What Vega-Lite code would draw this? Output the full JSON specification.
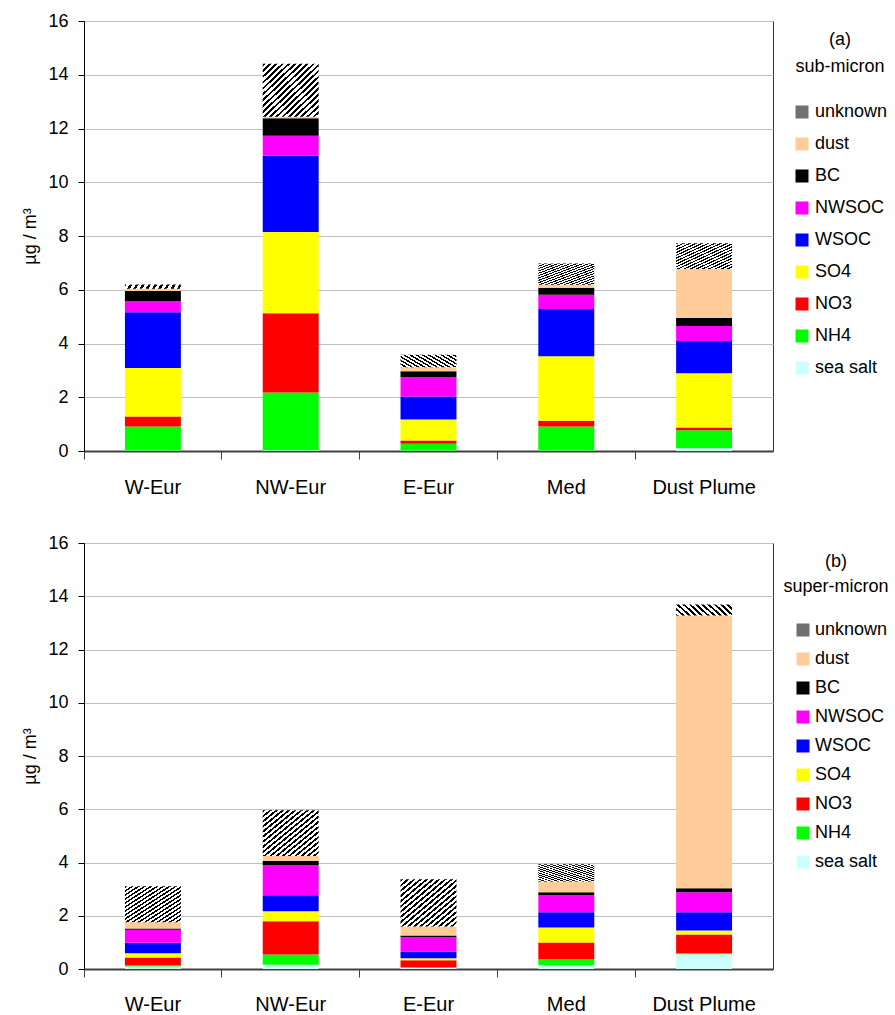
{
  "$schema": "https://vega.github.io/schema/vega-lite/v6.json",
  "padding": {"left": 21, "top": 11, "right": 0, "bottom": 0},
  "config": {
    "font": "Liberation Sans",
    "view": {"stroke": "#333333", "strokeWidth": 1},
    "axis": {"labelFont": "Liberation Sans", "titleFont": "Liberation Sans", "labelColor": "#000", "titleColor": "#000"},
    "legend": {"labelFont": "Liberation Sans", "titleFont": "Liberation Sans"}
  },
  "datasets": {
    "comp": [
      {"panel": "a", "region": "W-Eur", "component": "sea salt", "rank": 1, "value": 0.02},
      {"panel": "a", "region": "W-Eur", "component": "NH4", "rank": 2, "value": 0.89},
      {"panel": "a", "region": "W-Eur", "component": "NO3", "rank": 3, "value": 0.37},
      {"panel": "a", "region": "W-Eur", "component": "SO4", "rank": 4, "value": 1.81},
      {"panel": "a", "region": "W-Eur", "component": "WSOC", "rank": 5, "value": 2.07},
      {"panel": "a", "region": "W-Eur", "component": "NWSOC", "rank": 6, "value": 0.41},
      {"panel": "a", "region": "W-Eur", "component": "BC", "rank": 7, "value": 0.38},
      {"panel": "a", "region": "W-Eur", "component": "dust", "rank": 8, "value": 0.09},
      {"panel": "a", "region": "W-Eur", "component": "unknown", "rank": 9, "value": 0.16},
      {"panel": "a", "region": "NW-Eur", "component": "sea salt", "rank": 1, "value": 0.03},
      {"panel": "a", "region": "NW-Eur", "component": "NH4", "rank": 2, "value": 2.15},
      {"panel": "a", "region": "NW-Eur", "component": "NO3", "rank": 3, "value": 2.95},
      {"panel": "a", "region": "NW-Eur", "component": "SO4", "rank": 4, "value": 3.02},
      {"panel": "a", "region": "NW-Eur", "component": "WSOC", "rank": 5, "value": 2.84},
      {"panel": "a", "region": "NW-Eur", "component": "NWSOC", "rank": 6, "value": 0.74},
      {"panel": "a", "region": "NW-Eur", "component": "BC", "rank": 7, "value": 0.65},
      {"panel": "a", "region": "NW-Eur", "component": "dust", "rank": 8, "value": 0.06},
      {"panel": "a", "region": "NW-Eur", "component": "unknown", "rank": 9, "value": 1.97},
      {"panel": "a", "region": "E-Eur", "component": "sea salt", "rank": 1, "value": 0.02},
      {"panel": "a", "region": "E-Eur", "component": "NH4", "rank": 2, "value": 0.25},
      {"panel": "a", "region": "E-Eur", "component": "NO3", "rank": 3, "value": 0.12},
      {"panel": "a", "region": "E-Eur", "component": "SO4", "rank": 4, "value": 0.78},
      {"panel": "a", "region": "E-Eur", "component": "WSOC", "rank": 5, "value": 0.86},
      {"panel": "a", "region": "E-Eur", "component": "NWSOC", "rank": 6, "value": 0.71},
      {"panel": "a", "region": "E-Eur", "component": "BC", "rank": 7, "value": 0.23},
      {"panel": "a", "region": "E-Eur", "component": "dust", "rank": 8, "value": 0.15},
      {"panel": "a", "region": "E-Eur", "component": "unknown", "rank": 9, "value": 0.46},
      {"panel": "a", "region": "Med", "component": "sea salt", "rank": 1, "value": 0.02},
      {"panel": "a", "region": "Med", "component": "NH4", "rank": 2, "value": 0.89},
      {"panel": "a", "region": "Med", "component": "NO3", "rank": 3, "value": 0.22},
      {"panel": "a", "region": "Med", "component": "SO4", "rank": 4, "value": 2.40},
      {"panel": "a", "region": "Med", "component": "WSOC", "rank": 5, "value": 1.75},
      {"panel": "a", "region": "Med", "component": "NWSOC", "rank": 6, "value": 0.53},
      {"panel": "a", "region": "Med", "component": "BC", "rank": 7, "value": 0.26},
      {"panel": "a", "region": "Med", "component": "dust", "rank": 8, "value": 0.12},
      {"panel": "a", "region": "Med", "component": "unknown", "rank": 9, "value": 0.79},
      {"panel": "a", "region": "Dust Plume", "component": "sea salt", "rank": 1, "value": 0.10},
      {"panel": "a", "region": "Dust Plume", "component": "NH4", "rank": 2, "value": 0.67},
      {"panel": "a", "region": "Dust Plume", "component": "NO3", "rank": 3, "value": 0.10},
      {"panel": "a", "region": "Dust Plume", "component": "SO4", "rank": 4, "value": 2.02},
      {"panel": "a", "region": "Dust Plume", "component": "WSOC", "rank": 5, "value": 1.20},
      {"panel": "a", "region": "Dust Plume", "component": "NWSOC", "rank": 6, "value": 0.56},
      {"panel": "a", "region": "Dust Plume", "component": "BC", "rank": 7, "value": 0.30},
      {"panel": "a", "region": "Dust Plume", "component": "dust", "rank": 8, "value": 1.82},
      {"panel": "a", "region": "Dust Plume", "component": "unknown", "rank": 9, "value": 0.96},
      {"panel": "b", "region": "W-Eur", "component": "sea salt", "rank": 1, "value": 0.09},
      {"panel": "b", "region": "W-Eur", "component": "NH4", "rank": 2, "value": 0.04},
      {"panel": "b", "region": "W-Eur", "component": "NO3", "rank": 3, "value": 0.30},
      {"panel": "b", "region": "W-Eur", "component": "SO4", "rank": 4, "value": 0.16},
      {"panel": "b", "region": "W-Eur", "component": "WSOC", "rank": 5, "value": 0.40},
      {"panel": "b", "region": "W-Eur", "component": "NWSOC", "rank": 6, "value": 0.48},
      {"panel": "b", "region": "W-Eur", "component": "BC", "rank": 7, "value": 0.05},
      {"panel": "b", "region": "W-Eur", "component": "dust", "rank": 8, "value": 0.24},
      {"panel": "b", "region": "W-Eur", "component": "unknown", "rank": 9, "value": 1.35},
      {"panel": "b", "region": "NW-Eur", "component": "sea salt", "rank": 1, "value": 0.16},
      {"panel": "b", "region": "NW-Eur", "component": "NH4", "rank": 2, "value": 0.38},
      {"panel": "b", "region": "NW-Eur", "component": "NO3", "rank": 3, "value": 1.25},
      {"panel": "b", "region": "NW-Eur", "component": "SO4", "rank": 4, "value": 0.38},
      {"panel": "b", "region": "NW-Eur", "component": "WSOC", "rank": 5, "value": 0.60},
      {"panel": "b", "region": "NW-Eur", "component": "NWSOC", "rank": 6, "value": 1.13},
      {"panel": "b", "region": "NW-Eur", "component": "BC", "rank": 7, "value": 0.16},
      {"panel": "b", "region": "NW-Eur", "component": "dust", "rank": 8, "value": 0.18},
      {"panel": "b", "region": "NW-Eur", "component": "unknown", "rank": 9, "value": 1.72},
      {"panel": "b", "region": "E-Eur", "component": "sea salt", "rank": 1, "value": 0.04},
      {"panel": "b", "region": "E-Eur", "component": "NH4", "rank": 2, "value": 0.035},
      {"panel": "b", "region": "E-Eur", "component": "NO3", "rank": 3, "value": 0.255},
      {"panel": "b", "region": "E-Eur", "component": "SO4", "rank": 4, "value": 0.07},
      {"panel": "b", "region": "E-Eur", "component": "WSOC", "rank": 5, "value": 0.26},
      {"panel": "b", "region": "E-Eur", "component": "NWSOC", "rank": 6, "value": 0.53},
      {"panel": "b", "region": "E-Eur", "component": "BC", "rank": 7, "value": 0.07},
      {"panel": "b", "region": "E-Eur", "component": "dust", "rank": 8, "value": 0.34},
      {"panel": "b", "region": "E-Eur", "component": "unknown", "rank": 9, "value": 1.77},
      {"panel": "b", "region": "Med", "component": "sea salt", "rank": 1, "value": 0.14},
      {"panel": "b", "region": "Med", "component": "NH4", "rank": 2, "value": 0.22},
      {"panel": "b", "region": "Med", "component": "NO3", "rank": 3, "value": 0.64},
      {"panel": "b", "region": "Med", "component": "SO4", "rank": 4, "value": 0.56},
      {"panel": "b", "region": "Med", "component": "WSOC", "rank": 5, "value": 0.57},
      {"panel": "b", "region": "Med", "component": "NWSOC", "rank": 6, "value": 0.64},
      {"panel": "b", "region": "Med", "component": "BC", "rank": 7, "value": 0.11},
      {"panel": "b", "region": "Med", "component": "dust", "rank": 8, "value": 0.41},
      {"panel": "b", "region": "Med", "component": "unknown", "rank": 9, "value": 0.64},
      {"panel": "b", "region": "Dust Plume", "component": "sea salt", "rank": 1, "value": 0.55},
      {"panel": "b", "region": "Dust Plume", "component": "NH4", "rank": 2, "value": 0.04},
      {"panel": "b", "region": "Dust Plume", "component": "NO3", "rank": 3, "value": 0.71},
      {"panel": "b", "region": "Dust Plume", "component": "SO4", "rank": 4, "value": 0.15},
      {"panel": "b", "region": "Dust Plume", "component": "WSOC", "rank": 5, "value": 0.68},
      {"panel": "b", "region": "Dust Plume", "component": "NWSOC", "rank": 6, "value": 0.75},
      {"panel": "b", "region": "Dust Plume", "component": "BC", "rank": 7, "value": 0.15},
      {"panel": "b", "region": "Dust Plume", "component": "dust", "rank": 8, "value": 10.25},
      {"panel": "b", "region": "Dust Plume", "component": "unknown", "rank": 9, "value": 0.41}
    ]
  },
  "vconcat": [
    {
      "width": 689,
      "height": 430,
      "data": {"name": "comp"},
      "transform": [{"filter": "datum.panel === 'a'"}],
      "mark": {"type": "bar", "width": {"band": 0.406}},
      "encoding": {
        "x": {"field": "region", "type": "nominal", "sort": ["W-Eur", "NW-Eur", "E-Eur", "Med", "Dust Plume"], "scale": {"paddingInner": 0, "paddingOuter": 0},
          "axis": {"title": null, "labelAngle": 0, "labelFontSize": 20, "labelPadding": 18, "bandPosition": 0, "tickSize": 8, "tickColor": "#404040", "domainColor": "#404040", "domainWidth": 2, "grid": false}},
        "y": {"field": "value", "type": "quantitative", "stack": "zero", "scale": {"domain": [0, 16], "nice": false},
          "axis": {"title": "µg / m³", "titleFontSize": 18, "titleFontWeight": "normal", "titlePadding": 8, "values": [0, 2, 4, 6, 8, 10, 12, 14, 16], "labelFontSize": 18, "labelPadding": 10, "tickSize": 6, "tickColor": "#000", "domainColor": "#000", "gridColor": "#c0c0c0", "gridWidth": 1}},
        "order": {"field": "rank", "type": "quantitative"},
        "color": {
          "condition": {"test": "datum.component === 'unknown'", "value": {"gradient": "linear", "x1": 0, "y1": 0, "x2": 1, "y2": 1, "stops": [
            {"offset": 0, "color": "#000"}, {"offset": 0.025, "color": "#000"}, {"offset": 0.025, "color": "#fff"}, {"offset": 0.0556, "color": "#fff"},
            {"offset": 0.0556, "color": "#000"}, {"offset": 0.0806, "color": "#000"}, {"offset": 0.0806, "color": "#fff"}, {"offset": 0.1111, "color": "#fff"},
            {"offset": 0.1111, "color": "#000"}, {"offset": 0.1361, "color": "#000"}, {"offset": 0.1361, "color": "#fff"}, {"offset": 0.1667, "color": "#fff"},
            {"offset": 0.1667, "color": "#000"}, {"offset": 0.1917, "color": "#000"}, {"offset": 0.1917, "color": "#fff"}, {"offset": 0.2222, "color": "#fff"},
            {"offset": 0.2222, "color": "#000"}, {"offset": 0.2472, "color": "#000"}, {"offset": 0.2472, "color": "#fff"}, {"offset": 0.2778, "color": "#fff"},
            {"offset": 0.2778, "color": "#000"}, {"offset": 0.3028, "color": "#000"}, {"offset": 0.3028, "color": "#fff"}, {"offset": 0.3333, "color": "#fff"},
            {"offset": 0.3333, "color": "#000"}, {"offset": 0.3583, "color": "#000"}, {"offset": 0.3583, "color": "#fff"}, {"offset": 0.3889, "color": "#fff"},
            {"offset": 0.3889, "color": "#000"}, {"offset": 0.4139, "color": "#000"}, {"offset": 0.4139, "color": "#fff"}, {"offset": 0.4444, "color": "#fff"},
            {"offset": 0.4444, "color": "#000"}, {"offset": 0.4694, "color": "#000"}, {"offset": 0.4694, "color": "#fff"}, {"offset": 0.5, "color": "#fff"},
            {"offset": 0.5, "color": "#000"}, {"offset": 0.525, "color": "#000"}, {"offset": 0.525, "color": "#fff"}, {"offset": 0.5556, "color": "#fff"},
            {"offset": 0.5556, "color": "#000"}, {"offset": 0.5806, "color": "#000"}, {"offset": 0.5806, "color": "#fff"}, {"offset": 0.6111, "color": "#fff"},
            {"offset": 0.6111, "color": "#000"}, {"offset": 0.6361, "color": "#000"}, {"offset": 0.6361, "color": "#fff"}, {"offset": 0.6667, "color": "#fff"},
            {"offset": 0.6667, "color": "#000"}, {"offset": 0.6917, "color": "#000"}, {"offset": 0.6917, "color": "#fff"}, {"offset": 0.7222, "color": "#fff"},
            {"offset": 0.7222, "color": "#000"}, {"offset": 0.7472, "color": "#000"}, {"offset": 0.7472, "color": "#fff"}, {"offset": 0.7778, "color": "#fff"},
            {"offset": 0.7778, "color": "#000"}, {"offset": 0.8028, "color": "#000"}, {"offset": 0.8028, "color": "#fff"}, {"offset": 0.8333, "color": "#fff"},
            {"offset": 0.8333, "color": "#000"}, {"offset": 0.8583, "color": "#000"}, {"offset": 0.8583, "color": "#fff"}, {"offset": 0.8889, "color": "#fff"},
            {"offset": 0.8889, "color": "#000"}, {"offset": 0.9139, "color": "#000"}, {"offset": 0.9139, "color": "#fff"}, {"offset": 0.9444, "color": "#fff"},
            {"offset": 0.9444, "color": "#000"}, {"offset": 0.9694, "color": "#000"}, {"offset": 0.9694, "color": "#fff"}, {"offset": 1, "color": "#fff"}]}},
          "field": "component", "type": "nominal",
          "scale": {"domain": ["unknown", "dust", "BC", "NWSOC", "WSOC", "SO4", "NO3", "NH4", "sea salt"],
                    "range": ["#707070", "#FFCC99", "#000000", "#FF00FF", "#0000FF", "#FFFF00", "#FF0000", "#00FF00", "#CCFFFF"]},
          "legend": {
            "title": ["(a)", "sub-micron"], "titleFontSize": 18, "titleFontWeight": "normal", "titleColor": "#000", "titleAnchor": "middle", "titleAlign": "center", "titleLineHeight": 27, "titlePadding": 27,
            "labelFontSize": 18, "labelColor": "#000", "symbolType": "square", "symbolSize": 169, "symbolStrokeWidth": 0, "rowPadding": 14, "labelOffset": 4,
            "offset": 10, "padding": 10
          }
        }
      }
    },
    {
      "width": 689,
      "height": 426,
      "data": {"name": "comp"},
      "transform": [{"filter": "datum.panel === 'b'"}],
      "mark": {"type": "bar", "width": {"band": 0.406}},
      "encoding": {
        "x": {"field": "region", "type": "nominal", "sort": ["W-Eur", "NW-Eur", "E-Eur", "Med", "Dust Plume"], "scale": {"paddingInner": 0, "paddingOuter": 0},
          "axis": {"title": null, "labelAngle": 0, "labelFontSize": 20, "labelPadding": 17, "bandPosition": 0, "tickSize": 8, "tickColor": "#404040", "domainColor": "#404040", "domainWidth": 2, "grid": false}},
        "y": {"field": "value", "type": "quantitative", "stack": "zero", "scale": {"domain": [0, 16], "nice": false},
          "axis": {"title": "µg / m³", "titleFontSize": 18, "titleFontWeight": "normal", "titlePadding": 8, "values": [0, 2, 4, 6, 8, 10, 12, 14, 16], "labelFontSize": 18, "labelPadding": 10, "tickSize": 6, "tickColor": "#000", "domainColor": "#000", "gridColor": "#c0c0c0", "gridWidth": 1}},
        "order": {"field": "rank", "type": "quantitative"},
        "color": {
          "condition": {"test": "datum.component === 'unknown'", "value": {"gradient": "linear", "x1": 0, "y1": 0, "x2": 1, "y2": 1, "stops": [
            {"offset": 0, "color": "#000"}, {"offset": 0.025, "color": "#000"}, {"offset": 0.025, "color": "#fff"}, {"offset": 0.0556, "color": "#fff"},
            {"offset": 0.0556, "color": "#000"}, {"offset": 0.0806, "color": "#000"}, {"offset": 0.0806, "color": "#fff"}, {"offset": 0.1111, "color": "#fff"},
            {"offset": 0.1111, "color": "#000"}, {"offset": 0.1361, "color": "#000"}, {"offset": 0.1361, "color": "#fff"}, {"offset": 0.1667, "color": "#fff"},
            {"offset": 0.1667, "color": "#000"}, {"offset": 0.1917, "color": "#000"}, {"offset": 0.1917, "color": "#fff"}, {"offset": 0.2222, "color": "#fff"},
            {"offset": 0.2222, "color": "#000"}, {"offset": 0.2472, "color": "#000"}, {"offset": 0.2472, "color": "#fff"}, {"offset": 0.2778, "color": "#fff"},
            {"offset": 0.2778, "color": "#000"}, {"offset": 0.3028, "color": "#000"}, {"offset": 0.3028, "color": "#fff"}, {"offset": 0.3333, "color": "#fff"},
            {"offset": 0.3333, "color": "#000"}, {"offset": 0.3583, "color": "#000"}, {"offset": 0.3583, "color": "#fff"}, {"offset": 0.3889, "color": "#fff"},
            {"offset": 0.3889, "color": "#000"}, {"offset": 0.4139, "color": "#000"}, {"offset": 0.4139, "color": "#fff"}, {"offset": 0.4444, "color": "#fff"},
            {"offset": 0.4444, "color": "#000"}, {"offset": 0.4694, "color": "#000"}, {"offset": 0.4694, "color": "#fff"}, {"offset": 0.5, "color": "#fff"},
            {"offset": 0.5, "color": "#000"}, {"offset": 0.525, "color": "#000"}, {"offset": 0.525, "color": "#fff"}, {"offset": 0.5556, "color": "#fff"},
            {"offset": 0.5556, "color": "#000"}, {"offset": 0.5806, "color": "#000"}, {"offset": 0.5806, "color": "#fff"}, {"offset": 0.6111, "color": "#fff"},
            {"offset": 0.6111, "color": "#000"}, {"offset": 0.6361, "color": "#000"}, {"offset": 0.6361, "color": "#fff"}, {"offset": 0.6667, "color": "#fff"},
            {"offset": 0.6667, "color": "#000"}, {"offset": 0.6917, "color": "#000"}, {"offset": 0.6917, "color": "#fff"}, {"offset": 0.7222, "color": "#fff"},
            {"offset": 0.7222, "color": "#000"}, {"offset": 0.7472, "color": "#000"}, {"offset": 0.7472, "color": "#fff"}, {"offset": 0.7778, "color": "#fff"},
            {"offset": 0.7778, "color": "#000"}, {"offset": 0.8028, "color": "#000"}, {"offset": 0.8028, "color": "#fff"}, {"offset": 0.8333, "color": "#fff"},
            {"offset": 0.8333, "color": "#000"}, {"offset": 0.8583, "color": "#000"}, {"offset": 0.8583, "color": "#fff"}, {"offset": 0.8889, "color": "#fff"},
            {"offset": 0.8889, "color": "#000"}, {"offset": 0.9139, "color": "#000"}, {"offset": 0.9139, "color": "#fff"}, {"offset": 0.9444, "color": "#fff"},
            {"offset": 0.9444, "color": "#000"}, {"offset": 0.9694, "color": "#000"}, {"offset": 0.9694, "color": "#fff"}, {"offset": 1, "color": "#fff"}]}},
          "field": "component", "type": "nominal",
          "scale": {"domain": ["unknown", "dust", "BC", "NWSOC", "WSOC", "SO4", "NO3", "NH4", "sea salt"],
                    "range": ["#707070", "#FFCC99", "#000000", "#FF00FF", "#0000FF", "#FFFF00", "#FF0000", "#00FF00", "#CCFFFF"]},
          "legend": {
            "title": ["(b)", "super-micron"], "titleFontSize": 18, "titleFontWeight": "normal", "titleColor": "#000", "titleAnchor": "middle", "titleAlign": "center", "titleLineHeight": 25, "titlePadding": 25,
            "labelFontSize": 18, "labelColor": "#000", "symbolType": "square", "symbolSize": 169, "symbolStrokeWidth": 0, "rowPadding": 11, "labelOffset": 3, "symbolOffset": 9,
            "offset": 0, "padding": 10
          }
        }
      }
    }
  ],
  "spacing": 35,
  "resolve": {"scale": {"color": "independent"}, "legend": {"color": "independent"}}
}
